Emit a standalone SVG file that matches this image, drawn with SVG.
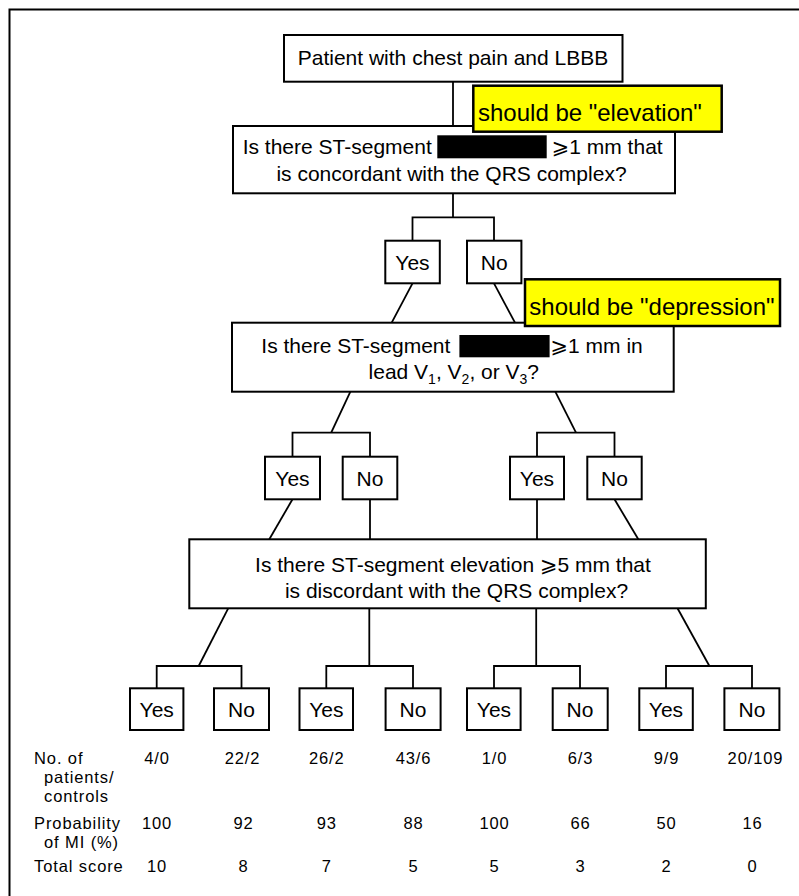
<svg xmlns="http://www.w3.org/2000/svg" width="799" height="896" viewBox="0 0 799 896">
<style>
  text { font-family: "Liberation Sans", Arial, "DejaVu Sans", sans-serif; fill: #000; }
  .box { fill: #fff; stroke: #000; stroke-width: 2; }
  .yn { fill: #fff; stroke: #000; stroke-width: 2; }
  .t { font-size: 21px; }
  .c { text-anchor: middle; }
  .note { fill: #ffff00; stroke: #000; stroke-width: 2.5; }
  .nt { font-size: 24px; }
  .tab text { font-size: 16.5px; letter-spacing: 0.9px; }
  .conn line, .conn polyline { stroke: #000; stroke-width: 1.8; fill: none; }
  .redact { fill: #000; }
</style>
<rect id="frame" x="9.5" y="9.5" width="800" height="900" fill="#fff" stroke="#000" stroke-width="2"/>

<g id="connectors" class="conn">
  <line x1="453" y1="81.7" x2="453" y2="126"/>
  <line x1="453" y1="193.3" x2="453" y2="217.3"/>
  <polyline points="412.5,241 412.5,217.3 494,217.3 494,241"/>
  <line x1="412.5" y1="283.3" x2="391.7" y2="322.7"/>
  <line x1="494" y1="283.3" x2="515" y2="322.7"/>
  <line x1="350.4" y1="391.7" x2="331.2" y2="432.7"/>
  <line x1="555.3" y1="391.7" x2="576" y2="432.7"/>
  <polyline points="292.5,456.7 292.5,432.7 370,432.7 370,456.7"/>
  <polyline points="537,456.7 537,432.7 614.5,432.7 614.5,456.7"/>
  <line x1="292.5" y1="499.3" x2="269.3" y2="539.3"/>
  <line x1="370" y1="499.3" x2="370" y2="539.3"/>
  <line x1="537" y1="499.3" x2="537" y2="539.3"/>
  <line x1="614.5" y1="499.3" x2="638.3" y2="539.3"/>
  <line x1="228.2" y1="608.3" x2="198.7" y2="666"/>
  <line x1="369.3" y1="608.3" x2="369.3" y2="666"/>
  <line x1="536.2" y1="608.3" x2="536.2" y2="666"/>
  <line x1="677.5" y1="608.3" x2="709.4" y2="666"/>
  <polyline points="156.7,688.3 156.7,666 241.5,666 241.5,688.3"/>
  <polyline points="326.3,688.3 326.3,666 413,666 413,688.3"/>
  <polyline points="494,688.3 494,666 580,666 580,688.3"/>
  <polyline points="666,688.3 666,666 752,666 752,688.3"/>
</g>

<g id="start">
  <rect class="box" x="284" y="35" width="338.5" height="46.7"/>
  <text class="t c" x="453" y="65">Patient with chest pain and LBBB</text>
</g>

<g id="q1">
  <rect class="box" x="233" y="126" width="442" height="67.3"/>
  <text class="t" x="242.7" y="154">Is there ST-segment</text>
  <rect class="redact" x="437.3" y="135.3" width="109.4" height="23"/>
  <text class="t" x="551.7" y="154">⩾1 mm that</text>
  <text class="t c" x="451.5" y="180.7">is concordant with the QRS complex?</text>
</g>

<g id="note1">
  <rect class="note" x="473.3" y="85.7" width="248.4" height="46"/>
  <text class="nt" x="478" y="121">should be "elevation"</text>
</g>

<g id="q1-yes">
  <rect class="yn" x="385.3" y="240.7" width="54.5" height="42.6"/>
  <text class="t c" x="412.5" y="269.5">Yes</text>
</g>
<g id="q1-no">
  <rect class="yn" x="467" y="240.7" width="54.4" height="42.6"/>
  <text class="t c" x="494.2" y="269.5">No</text>
</g>

<g id="q2">
  <rect class="box" x="232" y="322.7" width="441.7" height="69"/>
  <text class="t" x="261.3" y="353.3">Is there ST-segment</text>
  <rect class="redact" x="459.4" y="335" width="90.2" height="22.3"/>
  <text class="t" x="550.5" y="353.3">⩾1 mm in</text>
  <text class="t c" x="453.8" y="379">lead V<tspan font-size="14" dy="5">1</tspan><tspan dy="-5">, V</tspan><tspan font-size="14" dy="5">2</tspan><tspan dy="-5">, or V</tspan><tspan font-size="14" dy="5">3</tspan><tspan dy="-5">?</tspan></text>
</g>

<g id="note2">
  <rect class="note" x="525" y="279.3" width="255" height="46.7"/>
  <text class="nt" x="529.3" y="314.5">should be "depression"</text>
</g>

<g id="q2a-yes">
  <rect class="yn" x="265" y="456.7" width="55" height="42.6"/>
  <text class="t c" x="292.5" y="485.5">Yes</text>
</g>
<g id="q2a-no">
  <rect class="yn" x="342.7" y="456.7" width="54.6" height="42.6"/>
  <text class="t c" x="370" y="485.5">No</text>
</g>
<g id="q2b-yes">
  <rect class="yn" x="510" y="456.7" width="54" height="42.6"/>
  <text class="t c" x="537" y="485.5">Yes</text>
</g>
<g id="q2b-no">
  <rect class="yn" x="587.3" y="456.7" width="54.4" height="42.6"/>
  <text class="t c" x="614.5" y="485.5">No</text>
</g>

<g id="q3">
  <rect class="box" x="189.3" y="539.3" width="516.5" height="69"/>
  <text class="t c" x="453" y="571.7">Is there ST-segment elevation ⩾5 mm that</text>
  <text class="t c" x="456.5" y="598.3">is discordant with the QRS complex?</text>
</g>

<g id="r1-yes"><rect class="yn" x="130" y="688.3" width="53.4" height="41.7"/><text class="t c" x="156.7" y="716.5">Yes</text></g>
<g id="r1-no"><rect class="yn" x="214" y="688.3" width="55" height="41.7"/><text class="t c" x="241.5" y="716.5">No</text></g>
<g id="r2-yes"><rect class="yn" x="299.5" y="688.3" width="53.5" height="41.7"/><text class="t c" x="326.3" y="716.5">Yes</text></g>
<g id="r2-no"><rect class="yn" x="385.6" y="688.3" width="55" height="41.7"/><text class="t c" x="413" y="716.5">No</text></g>
<g id="r3-yes"><rect class="yn" x="467" y="688.3" width="53.6" height="41.7"/><text class="t c" x="494" y="716.5">Yes</text></g>
<g id="r3-no"><rect class="yn" x="552.7" y="688.3" width="55" height="41.7"/><text class="t c" x="580" y="716.5">No</text></g>
<g id="r4-yes"><rect class="yn" x="639.3" y="688.3" width="53.5" height="41.7"/><text class="t c" x="666" y="716.5">Yes</text></g>
<g id="r4-no"><rect class="yn" x="724.4" y="688.3" width="55" height="41.7"/><text class="t c" x="752" y="716.5">No</text></g>

<g id="table" class="tab">
  <text x="34" y="764.3">No. of</text>
  <text x="44" y="783.3">patients/</text>
  <text x="44" y="801.7">controls</text>
  <text x="34" y="829.3">Probability</text>
  <text x="44" y="848.3">of MI (%)</text>
  <text x="34" y="872">Total score</text>
  <g class="c">
    <text x="157" y="764.3">4/0</text>
    <text x="242.5" y="764.3">22/2</text>
    <text x="326.8" y="764.3">26/2</text>
    <text x="413.5" y="764.3">43/6</text>
    <text x="494.5" y="764.3">1/0</text>
    <text x="580.5" y="764.3">6/3</text>
    <text x="666.5" y="764.3">9/9</text>
    <text x="755.5" y="764.3">20/109</text>
    <text x="157" y="829.3">100</text>
    <text x="243.5" y="829.3">92</text>
    <text x="326.8" y="829.3">93</text>
    <text x="413.5" y="829.3">88</text>
    <text x="494.5" y="829.3">100</text>
    <text x="580.5" y="829.3">66</text>
    <text x="666.5" y="829.3">50</text>
    <text x="752.5" y="829.3">16</text>
    <text x="157" y="872">10</text>
    <text x="243.5" y="872">8</text>
    <text x="326.8" y="872">7</text>
    <text x="413.5" y="872">5</text>
    <text x="494.5" y="872">5</text>
    <text x="580.5" y="872">3</text>
    <text x="666.5" y="872">2</text>
    <text x="752.5" y="872">0</text>
  </g>
</g>
</svg>
